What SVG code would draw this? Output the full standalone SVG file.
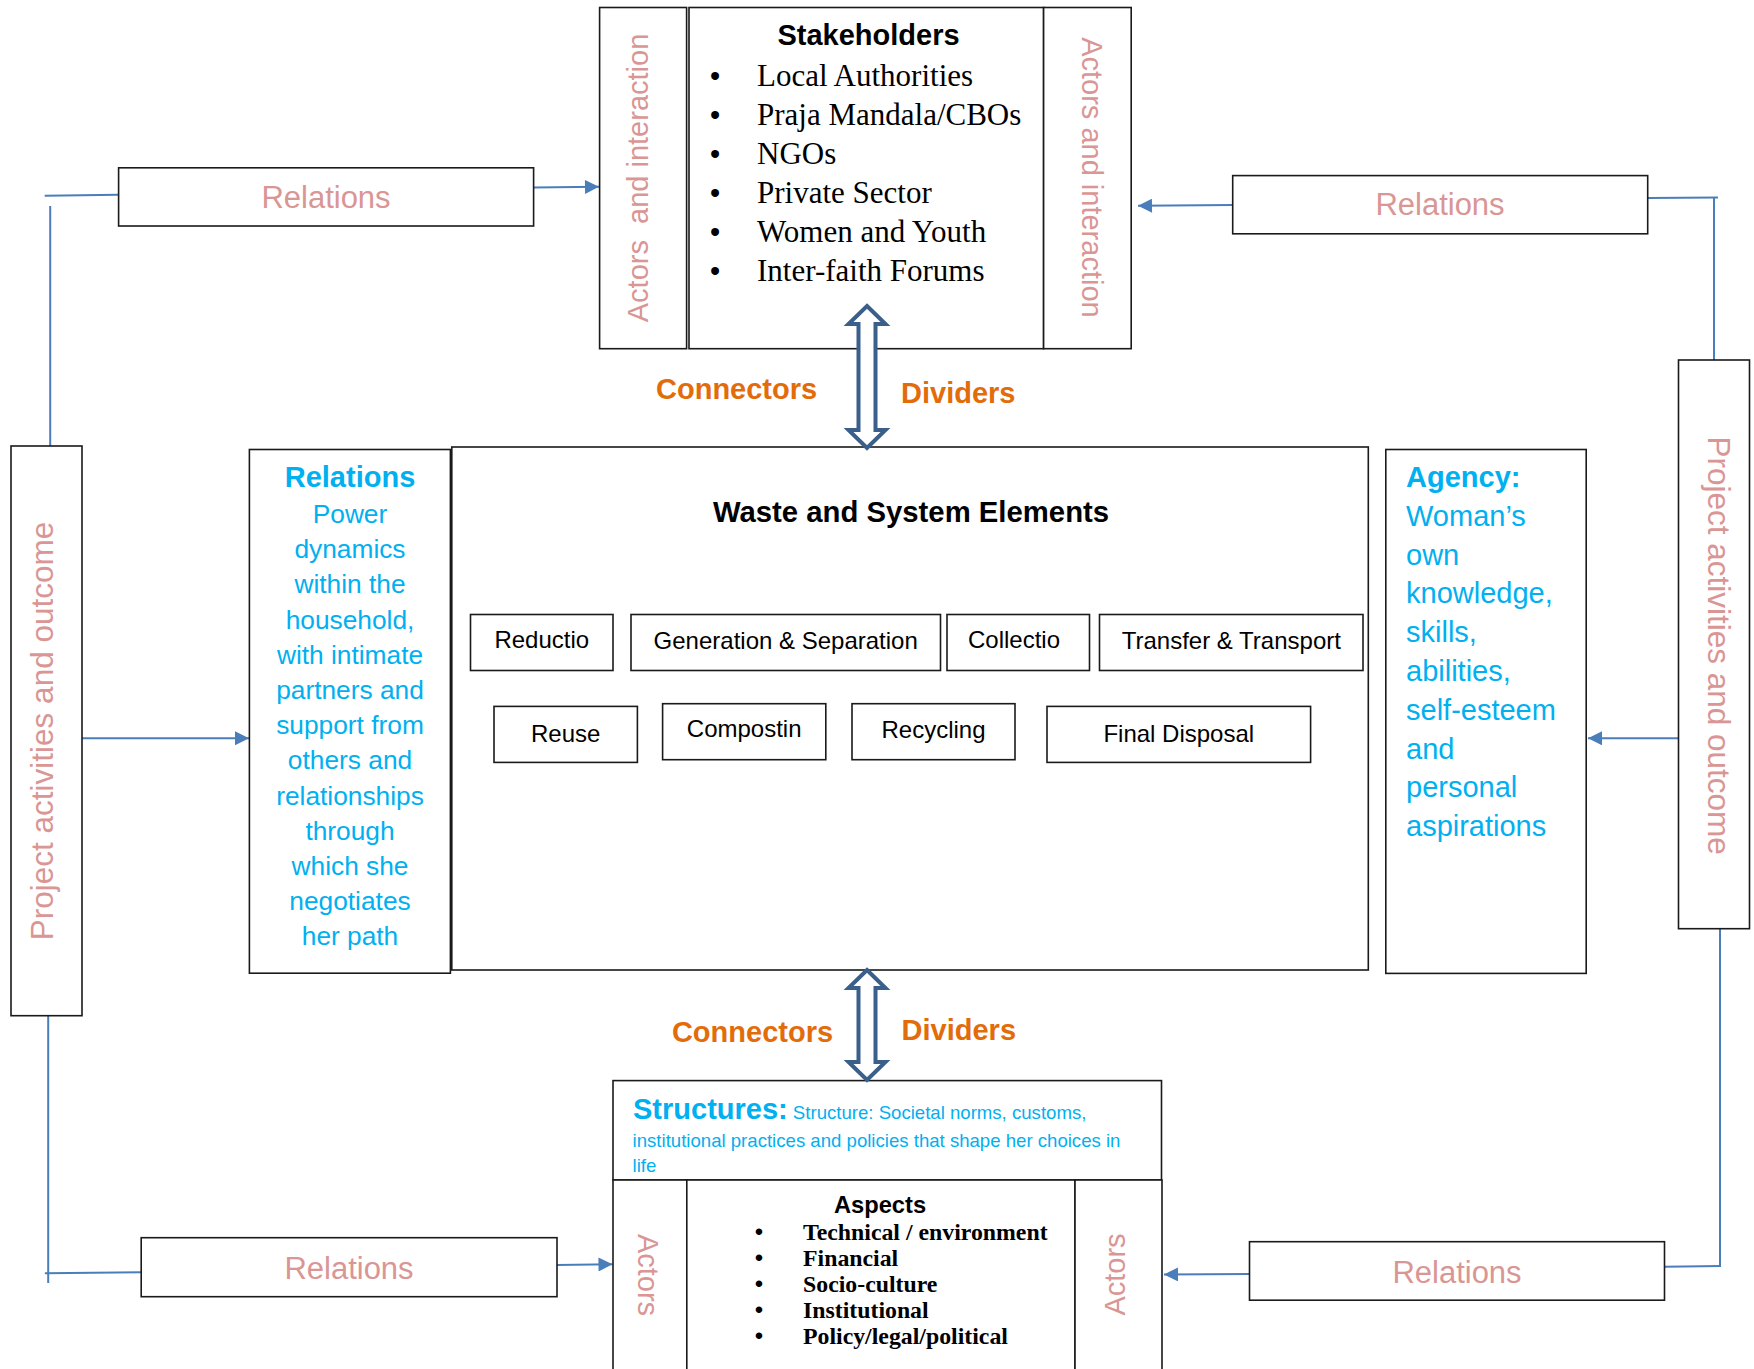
<svg xmlns="http://www.w3.org/2000/svg" width="1754" height="1369" viewBox="0 0 1754 1369">
<style>
.box{fill:#fff;stroke:#1a1a1a;stroke-width:1.6}
.pink{font-family:"Liberation Sans",Arial,sans-serif;fill:#D99694}
.blue{font-family:"Liberation Sans",Arial,sans-serif;fill:#00B0F0}
.orange{font-family:"Liberation Sans",Arial,sans-serif;font-weight:bold;font-size:29px;fill:#E36C0A}
.sans{font-family:"Liberation Sans",Arial,sans-serif;fill:#000}
.serif{font-family:"Liberation Serif","Times New Roman",serif;fill:#000}
.el{font-family:"Liberation Sans",Arial,sans-serif;font-size:24px;fill:#000;text-anchor:middle}
.conn{fill:none;stroke:#4A7EBB;stroke-width:2}
.dbl{fill:#fff;stroke:#3A5F8B;stroke-width:4;stroke-linejoin:miter}
</style>
<defs>
<marker id="ah" viewBox="0 0 10 10" refX="10" refY="5" markerWidth="15" markerHeight="14" markerUnits="userSpaceOnUse" orient="auto">
<path d="M0,0 L10,5 L0,10 z" fill="#4A7EBB"/>
</marker>
</defs>
<rect width="1754" height="1369" fill="#fff"/>

<g id="connectors">
<line class="conn" x1="44.7" y1="195.8" x2="118.6" y2="194.8"/>
<line class="conn" x1="50.2" y1="206" x2="50.2" y2="446"/>
<line class="conn" x1="533.6" y1="187.5" x2="599" y2="186.8" marker-end="url(#ah)"/>
<line class="conn" x1="1232.7" y1="205" x2="1138" y2="205.8" marker-end="url(#ah)"/>
<line class="conn" x1="1647.7" y1="198" x2="1718" y2="197.5"/>
<line class="conn" x1="1714" y1="198" x2="1714" y2="360"/>
<line class="conn" x1="81.7" y1="738.3" x2="249" y2="738.3" marker-end="url(#ah)"/>
<line class="conn" x1="1679" y1="738.3" x2="1588" y2="738.3" marker-end="url(#ah)"/>
<line class="conn" x1="48.2" y1="1016" x2="48.2" y2="1283"/>
<line class="conn" x1="44.9" y1="1273.3" x2="141.2" y2="1272.3"/>
<line class="conn" x1="557" y1="1265" x2="612.5" y2="1264.3" marker-end="url(#ah)"/>
<line class="conn" x1="1249.5" y1="1274" x2="1164" y2="1274.5" marker-end="url(#ah)"/>
<line class="conn" x1="1664.5" y1="1266.8" x2="1721" y2="1266"/>
<line class="conn" x1="1720" y1="929" x2="1720" y2="1267"/>
</g>

<g id="stakeholders-actors-left">
<rect class="box" x="599.6" y="7.5" width="87" height="341.2"/>
<text class="pink" font-size="29" text-anchor="middle" transform="translate(647.5,178) rotate(-90)">Actors&#160; and interaction</text>
</g>
<g id="stakeholders">
<rect class="box" x="689" y="7.5" width="354.6" height="341.2"/>
<text class="sans" x="868.5" y="45" font-size="29" font-weight="bold" text-anchor="middle">Stakeholders</text>
<g class="sans" font-size="29" text-anchor="middle">
<text x="715" y="86">•</text><text x="715" y="125">•</text><text x="715" y="164">•</text>
<text x="715" y="203">•</text><text x="715" y="242">•</text><text x="715" y="281">•</text>
</g>
<g class="serif" font-size="31">
<text x="757" y="86">Local Authorities</text>
<text x="757" y="125">Praja Mandala/CBOs</text>
<text x="757" y="164">NGOs</text>
<text x="757" y="203">Private Sector</text>
<text x="757" y="242">Women and Youth</text>
<text x="757" y="281">Inter-faith Forums</text>
</g>
</g>
<g id="stakeholders-actors-right">
<rect class="box" x="1043.6" y="7.5" width="87.6" height="341.2"/>
<text class="pink" font-size="29" text-anchor="middle" transform="translate(1082,177.4) rotate(90)">Actors and interaction</text>
</g>

<g id="relations-top-left">
<rect class="box" x="118.6" y="167.8" width="415" height="58.2"/>
<text class="pink" x="326" y="208.3" font-size="31" text-anchor="middle">Relations</text>
</g>
<g id="relations-top-right">
<rect class="box" x="1232.7" y="175.6" width="415" height="58.2"/>
<text class="pink" x="1440" y="215.3" font-size="31" text-anchor="middle">Relations</text>
</g>

<g id="connectors-dividers-top">
<text class="orange" x="736.6" y="399" text-anchor="middle">Connectors</text>
<text class="orange" x="901" y="403">Dividers</text>
</g>

<g id="project-left">
<rect class="box" x="11" y="446" width="71" height="569.7"/>
<text class="pink" font-size="31.5" text-anchor="middle" transform="translate(53,731) rotate(-90)">Project activities and outcome</text>
</g>
<g id="project-right">
<rect class="box" x="1678.5" y="360" width="71" height="568.7"/>
<text class="pink" font-size="31.5" text-anchor="middle" transform="translate(1707.5,645.6) rotate(90)">Project activities and outcome</text>
</g>

<g id="relations-box">
<rect class="box" x="249.4" y="449.5" width="201" height="523.7"/>
<text class="blue" x="350" y="486.7" font-size="29" font-weight="bold" text-anchor="middle">Relations</text>
<g class="blue" font-size="26.3" text-anchor="middle">
<text x="350" y="523">Power</text>
<text x="350" y="558.2">dynamics</text>
<text x="350" y="593.4">within the</text>
<text x="350" y="628.6">household,</text>
<text x="350" y="663.8">with intimate</text>
<text x="350" y="699">partners and</text>
<text x="350" y="734.2">support from</text>
<text x="350" y="769.4">others and</text>
<text x="350" y="804.6">relationships</text>
<text x="350" y="839.8">through</text>
<text x="350" y="875">which she</text>
<text x="350" y="910.2">negotiates</text>
<text x="350" y="945.4">her path</text>
</g>
</g>

<g id="waste-system">
<rect class="box" x="451.8" y="447" width="916.5" height="523"/>
<text class="sans" x="911" y="521.6" font-size="29.3" font-weight="bold" text-anchor="middle">Waste and System Elements</text>
</g>
<g id="el-reductio"><rect class="box" x="470.5" y="614.5" width="142.5" height="56"/><text class="el" x="541.8" y="648">Reductio</text></g>
<g id="el-generation"><rect class="box" x="631" y="614.5" width="309.5" height="56"/><text class="el" x="785.7" y="649">Generation &amp; Separation</text></g>
<g id="el-collectio"><rect class="box" x="947" y="614.5" width="142.5" height="56"/><text class="el" x="1014" y="648">Collectio</text></g>
<g id="el-transfer"><rect class="box" x="1099.5" y="614.5" width="263.5" height="56"/><text class="el" x="1231.3" y="649">Transfer &amp; Transport</text></g>
<g id="el-reuse"><rect class="box" x="494" y="706.4" width="143.4" height="56"/><text class="el" x="565.7" y="741.5">Reuse</text></g>
<g id="el-compostin"><rect class="box" x="662.6" y="703.7" width="163.2" height="56"/><text class="el" x="744.2" y="736.5">Compostin</text></g>
<g id="el-recycling"><rect class="box" x="852" y="703.7" width="163" height="56"/><text class="el" x="933.5" y="738">Recycling</text></g>
<g id="el-final"><rect class="box" x="1047" y="706.4" width="263.6" height="56"/><text class="el" x="1178.8" y="741.5">Final Disposal</text></g>

<g id="agency">
<rect class="box" x="1385.8" y="449.5" width="200.4" height="523.9"/>
<text class="blue" x="1406" y="486.6" font-size="29" font-weight="bold">Agency:</text>
<g class="blue" font-size="29">
<text x="1406" y="525.7">Woman’s</text>
<text x="1406" y="564.5">own</text>
<text x="1406" y="603.3">knowledge,</text>
<text x="1406" y="642.1">skills,</text>
<text x="1406" y="680.9">abilities,</text>
<text x="1406" y="719.7">self-esteem</text>
<text x="1406" y="758.5">and</text>
<text x="1406" y="797.3">personal</text>
<text x="1406" y="836.1">aspirations</text>
</g>
</g>

<g id="connectors-dividers-bottom">
<text class="orange" x="752.5" y="1041.7" text-anchor="middle">Connectors</text>
<text class="orange" x="901.6" y="1040">Dividers</text>
</g>

<g id="structures">
<rect class="box" x="613" y="1080.6" width="548.5" height="99.4"/>
<text class="blue" x="633" y="1118.5"><tspan font-size="29" font-weight="bold">Structures:</tspan><tspan font-size="18.6"> Structure: Societal norms, customs,</tspan></text>
<text class="blue" x="632.6" y="1146.6" font-size="18.6">institutional practices and policies that shape her choices in</text>
<text class="blue" x="632.6" y="1172" font-size="18.6">life</text>
</g>
<g id="aspects-actors-left">
<rect class="box" x="613" y="1180" width="73.8" height="195"/>
<text class="pink" font-size="29" text-anchor="middle" transform="translate(637.5,1275) rotate(90)">Actors</text>
</g>
<g id="aspects">
<rect class="box" x="686.8" y="1180" width="388.2" height="195"/>
<text class="sans" x="880" y="1213" font-size="23.7" font-weight="bold" text-anchor="middle">Aspects</text>
<g class="sans" font-size="24" text-anchor="middle">
<text x="759" y="1240">•</text><text x="759" y="1266">•</text><text x="759" y="1292">•</text>
<text x="759" y="1318">•</text><text x="759" y="1344">•</text>
</g>
<g class="serif" font-size="23.8" font-weight="bold">
<text x="803" y="1240">Technical / environment</text>
<text x="803" y="1266">Financial</text>
<text x="803" y="1292">Socio-culture</text>
<text x="803" y="1318">Institutional</text>
<text x="803" y="1344">Policy/legal/political</text>
</g>
</g>
<g id="aspects-actors-right">
<rect class="box" x="1075" y="1180" width="87" height="195"/>
<text class="pink" font-size="29" text-anchor="middle" transform="translate(1125,1274.5) rotate(-90)">Actors</text>
</g>

<g id="relations-bottom-left">
<rect class="box" x="141.2" y="1237.7" width="415.8" height="59"/>
<text class="pink" x="349" y="1278.5" font-size="31" text-anchor="middle">Relations</text>
</g>
<g id="relations-bottom-right">
<rect class="box" x="1249.5" y="1241.7" width="415" height="58.5"/>
<text class="pink" x="1457" y="1282.5" font-size="31" text-anchor="middle">Relations</text>
</g>

<g id="connectors-double-arrows">
<polygon class="dbl" points="867,306 885.5,324 875.5,324 875.5,430 885.5,430 867,448 848.5,430 858.5,430 858.5,324 848.5,324"/>
<polygon class="dbl" points="867,970 885.5,988 875.5,988 875.5,1062 885.5,1062 867,1080 848.5,1062 858.5,1062 858.5,988 848.5,988"/>
</g>
</svg>
